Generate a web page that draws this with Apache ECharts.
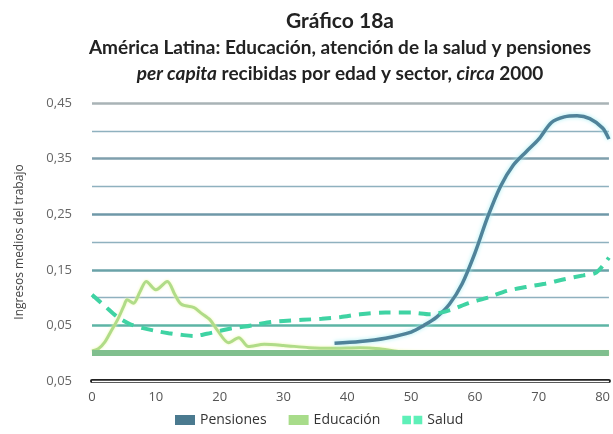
<!DOCTYPE html>
<html>
<head>
<meta charset="utf-8">
<script src="https://cdn.jsdelivr.net/npm/echarts@6/dist/echarts.min.js"></script>
<style>
  html, body { margin: 0; padding: 0; background: #fff; }
  #chart { width: 613px; height: 434px; }
</style>
</head>
<body>
<div id="chart"></div>
<script>
// edades y valores
var eduAges = [0, 1, 2, 3, 4, 5, 5.5, 6.5, 7.5, 8.5, 10, 11.8, 13, 14, 16, 17, 18.5, 19.6, 21.4, 23, 24.5, 27, 30, 34, 38, 42, 45, 48, 55, 81];
var eduValues = [0.004, 0.008, 0.02, 0.04, 0.06, 0.085, 0.096, 0.09, 0.11, 0.129, 0.114, 0.129, 0.105, 0.088, 0.082, 0.073, 0.06, 0.042, 0.019, 0.028, 0.012, 0.016, 0.014, 0.01, 0.009, 0.01, 0.008, 0.003, 0, 0];

var salAges = [0, 2, 4, 6, 8, 10, 12, 14, 16, 18, 20, 22, 24, 26, 28, 30, 33, 36, 39, 42, 46, 50, 53, 56, 59, 62, 65, 68, 71, 74, 77, 79, 81];
var salValues = [0.105, 0.085, 0.065, 0.052, 0.045, 0.04, 0.036, 0.033, 0.031, 0.035, 0.04, 0.045, 0.048, 0.052, 0.056, 0.058, 0.06, 0.062, 0.065, 0.07, 0.073, 0.073, 0.07, 0.077, 0.09, 0.1, 0.112, 0.119, 0.125, 0.133, 0.14, 0.145, 0.172];

var penAges = [38, 42, 46, 50, 52, 54, 56, 58, 60, 62, 64, 66, 68, 70, 72, 74, 76, 78, 80, 81];
var penValues = [0.018, 0.021, 0.027, 0.038, 0.05, 0.065, 0.088, 0.125, 0.18, 0.245, 0.3, 0.338, 0.362, 0.385, 0.415, 0.425, 0.427, 0.422, 0.405, 0.385];

function pairs(xs, ys) {
  return xs.map(function (x, i) { return [x, ys[i]]; });
}

var myChart = echarts.init(document.getElementById("chart"));
var option = {
  animation: false,
  title: {
    text: "{t|Gráfico 18a}\n{s|América Latina: Educación, atención de la salud y pensiones}\n{i|per capita}{s| recibidas por edad y sector, }{i|circa}{s| 2000}",
    left: 335,
    textAlign: "center",
    top: 2,
    textStyle: {
      rich: {
        t: { fontFamily: "Lato", fontWeight: "bold", fontSize: 21, color: "#222", lineHeight: 28 },
        s: { fontFamily: "Lato", fontWeight: "bold", fontSize: 19, color: "#222", lineHeight: 26 },
        i: { fontFamily: "Lato", fontWeight: "bold", fontStyle: "italic", fontSize: 19, color: "#222", lineHeight: 26 }
      }
    }
  },
  legend: {
    bottom: 2,
    left: 170,
    orient: "horizontal",
    itemWidth: 20,
    itemHeight: 10,
    itemGap: 22,
    textStyle: { fontFamily: "Open Sans", fontSize: 14, color: "#333" },
    data: [
      { name: "Pensiones", icon: "rect" },
      { name: "Educación", icon: "rect" },
      { name: "Salud", icon: "path://M0,0h10v10h-10z M13,0h10v10h-10z" }
    ]
  },
  grid: { left: 92, right: 4, top: 103, bottom: 53 },
  xAxis: {
    type: "value",
    min: 0,
    max: 81,
    interval: 10,
    axisLine: { onZero: false, lineStyle: { color: "#222", width: 4 } },
    axisTick: { show: false },
    splitLine: { show: false },
    axisLabel: {
      margin: 10,
      fontFamily: "Open Sans",
      fontSize: 13,
      color: "#555",
      formatter: function (v) { return v % 10 === 0 ? String(v) : ""; }
    }
  },
  yAxis: {
    type: "value",
    min: -0.05,
    max: 0.45,
    interval: 0.1,
    name: "Ingresos medios del trabajo",
    nameLocation: "middle",
    nameGap: 66,
    nameTextStyle: { fontFamily: "Open Sans", fontSize: 12, color: "#444" },
    axisLine: { show: false },
    axisTick: { show: false },
    axisLabel: {
      margin: 20,
      fontFamily: "Open Sans",
      fontSize: 13,
      color: "#666",
      formatter: function (v) { return Math.abs(v).toFixed(2).replace(".", ","); }
    },
    splitLine: {
      lineStyle: {
        color: ["#222", "#5db4a5", "#6aa2a8", "#6f98a8", "#7f9fad", "#a9b3b6"],
        width: 2.5
      }
    },
    minorTick: { show: false, splitNumber: 2 },
    minorSplitLine: { show: true, lineStyle: { color: "#8fb1bf", width: 1.3 } }
  },
  series: [
    {
      name: "Pensiones",
      type: "line",
      smooth: 0.3,
      symbol: "none",
      z: 4,
      color: "#4a7a8f",
      lineStyle: { color: "#50839a", width: 3.5, shadowColor: "#a6eef2", shadowBlur: 4 },
      data: pairs(penAges, penValues)
    },
    {
      name: "Educación",
      type: "line",
      smooth: 0.3,
      symbol: "none",
      z: 3,
      color: "#a8dc8a",
      lineStyle: { color: "#b0dc88", width: 3, shadowColor: "#eef7b0", shadowBlur: 3 },
      data: pairs(eduAges, eduValues),
      markLine: {
        silent: true,
        symbol: "none",
        label: { show: false },
        data: [
          { yAxis: 0, lineStyle: { color: "#80bf8e", width: 6, type: "solid" } },
          { yAxis: -0.05, lineStyle: { color: "#fff", width: 1.4, type: "solid" } }
        ]
      }
    },
    {
      name: "Salud",
      type: "line",
      smooth: 0.3,
      symbol: "none",
      z: 5,
      color: "#5ef0b8",
      lineStyle: { color: "#3fd3a3", width: 4, type: [12, 8] },
      data: pairs(salAges, salValues)
    }
  ]
};
myChart.setOption(option, true);
</script>
</body>
</html>
